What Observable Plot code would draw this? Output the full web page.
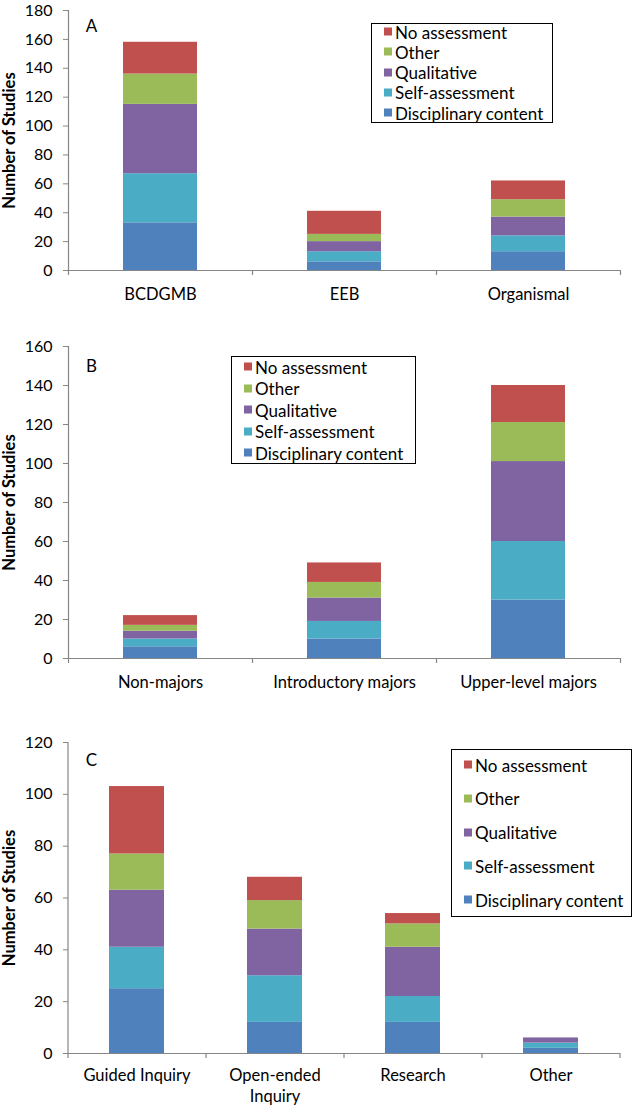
<!DOCTYPE html>
<html>
<head>
<meta charset="utf-8">
<script src="https://cdn.jsdelivr.net/npm/d3@7"></script>
<script src="https://cdn.jsdelivr.net/npm/@observablehq/plot@0.6"></script>
<style>
  html, body { margin: 0; padding: 0; background: #fff; }
  #root { position: relative; width: 633px; height: 1109px; font-family: Lato, "Open Sans", sans-serif; }
  .panel { position: absolute; left: 0; width: 633px; }
  .panel svg { display: block; }
  .legend { position: absolute; box-sizing: border-box; border: 1.5px solid #000; background: #fff; }
  .entry { position: absolute; left: 12px; display: flex; align-items: center; font-size: 17px; line-height: 1; white-space: nowrap; color: #000; transform: translateY(-50%); }
  .sw { width: 8px; height: 8px; margin-right: 3px; }
</style>
</head>
<body>
<div id="root"></div>
<script>
// Assessment types (bottom to top of each stack)
const types = ["Disciplinary content", "Self-assessment", "Qualitative", "Other", "No assessment"];
const colors = ["#4F81BD", "#4BACC6", "#8064A2", "#9BBB59", "#C0504D"];

// Panel A
const categoriesA = ["BCDGMB", "EEB", "Organismal"];
const disciplinaryA = [33, 6, 13];
const selfA = [34, 7, 11];
const qualitativeA = [48, 7, 13];
const otherA = [21, 5, 12];
const noneA = [22, 16, 13];
const ticksA = [0, 20, 40, 60, 80, 100, 120, 140, 160, 180];

// Panel B
const categoriesB = ["Non-majors", "Introductory majors", "Upper-level majors"];
const disciplinaryB = [6, 10, 30];
const selfB = [4, 9, 30];
const qualitativeB = [4, 12, 41];
const otherB = [3, 8, 20];
const noneB = [5, 10, 19];
const ticksB = [0, 20, 40, 60, 80, 100, 120, 140, 160];

// Panel C
const categoriesC = ["Guided Inquiry", "Open-ended\nInquiry", "Research", "Other"];
const disciplinaryC = [25, 12, 12, 2];
const selfC = [16, 18, 10, 2];
const qualitativeC = [22, 18, 19, 2];
const otherC = [14, 11, 9, 0];
const noneC = [26, 9, 4, 0];
const ticksC = [0, 20, 40, 60, 80, 100, 120];

const axisGray = "#868686";
const W = 633, ML = 68, MR = 13;

function rowsFor(cats, series) {
  const rows = [];
  cats.forEach((c, i) => series.forEach((s, k) => rows.push({cat: c, type: types[k], value: s[i]})));
  return rows;
}

function panel({cats, series, ticks, top, height, mt, mb, letter, letterDy, xPad, legend}) {
  const ymax = ticks[ticks.length - 1];
  const step = (W - ML - MR) / cats.length;
  const chart = Plot.plot({
    width: W, height, marginLeft: ML, marginRight: MR, marginTop: mt, marginBottom: mb,
    style: {fontFamily: "Lato, 'Open Sans', sans-serif", fontSize: "16px", color: "#000", background: "#fff"},
    x: {domain: cats, paddingInner: 0.6, paddingOuter: 0.3},
    y: {domain: [0, ymax]},
    color: {domain: types, range: colors},
    marks: [
      Plot.barY(rowsFor(cats, series), {x: "cat", y: "value", fill: "type"}),
      Plot.ruleX(cats.slice(0, 1), {x: d => d, dx: -step / 2, y1: 0, y2: ymax, stroke: axisGray, strokeWidth: 1.2}),
      Plot.ruleX(cats, {x: d => d, dx: -step / 2, y1: 0, y2: 0, insetBottom: -5, stroke: axisGray, strokeWidth: 1.2}),
      Plot.ruleX(cats.slice(-1), {x: d => d, dx: step / 2, y1: 0, y2: 0, insetBottom: -5, stroke: axisGray, strokeWidth: 1.2}),
      Plot.ruleY([0], {stroke: axisGray, strokeWidth: 1.2}),
      Plot.axisY({ticks, tickSize: 5, tickPadding: 11, stroke: axisGray, fill: "#000", fontSize: 16, label: null, tickFormat: d => String(d)}),
      Plot.axisX({tickSize: 0, tickPadding: xPad, fill: "#000", fontSize: 16.5, label: null, lineHeight: 1.3}),
      Plot.text([letter], {frameAnchor: "top-left", textAnchor: "middle", lineAnchor: "middle", dx: 23, dy: letterDy, fontSize: 17, fill: "#000"}),
      Plot.text(["Number of Studies"], {frameAnchor: "left", textAnchor: "middle", lineAnchor: "middle", rotate: -90, dx: -59, fontWeight: "bold", fontSize: 16.5, fill: "#000"})
    ]
  });
  const div = document.createElement("div");
  div.className = "panel";
  div.style.top = top + "px";
  div.appendChild(chart);
  // legend
  const lg = document.createElement("div");
  lg.className = "legend";
  lg.style.left = legend.x + "px";
  lg.style.top = (legend.y - top) + "px";
  lg.style.width = legend.w + "px";
  lg.style.height = legend.h + "px";
  const order = types.map((t, k) => k).reverse();
  order.forEach((k, j) => {
    const e = document.createElement("div");
    e.className = "entry";
    e.style.top = (legend.first - legend.y + j * legend.gap - 1.5) + "px";
    const sw = document.createElement("span");
    sw.className = "sw";
    sw.style.background = colors[k];
    e.appendChild(sw);
    e.appendChild(document.createTextNode(types[k]));
    lg.appendChild(e);
  });
  div.appendChild(lg);
  document.getElementById("root").appendChild(div);
}

panel({cats: categoriesA, series: [disciplinaryA, selfA, qualitativeA, otherA, noneA], ticks: ticksA,
  top: 0, height: 310, mt: 10, mb: 40, letter: "A", letterDy: 16, xPad: 14,
  legend: {x: 371, y: 23, w: 182, h: 100, first: 32, gap: 20.3}});
panel({cats: categoriesB, series: [disciplinaryB, selfB, qualitativeB, otherB, noneB], ticks: ticksB,
  top: 310, height: 390, mt: 36, mb: 42, letter: "B", letterDy: 20, xPad: 14,
  legend: {x: 231, y: 356, w: 185, h: 108, first: 367, gap: 21.5}});
panel({cats: categoriesC, series: [disciplinaryC, selfC, qualitativeC, otherC, noneC], ticks: ticksC,
  top: 700, height: 409, mt: 42, mb: 56, letter: "C", letterDy: 18, xPad: 12,
  legend: {x: 451, y: 749, w: 181, h: 168, first: 765, gap: 33.75}});
</script>
</body>
</html>
